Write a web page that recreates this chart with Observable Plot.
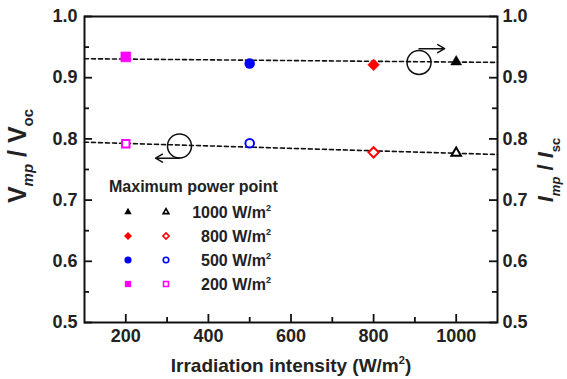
<!DOCTYPE html>
<html>
<head>
<meta charset="utf-8">
<script src="https://cdn.jsdelivr.net/npm/d3@7"></script>
<script src="https://cdn.jsdelivr.net/npm/@observablehq/plot@0.6"></script>
<style>
  html, body { margin: 0; padding: 0; background: #fff; }
  #wrap { position: relative; width: 567px; height: 379px; font-family: "Liberation Sans", Arial, sans-serif; }
  #legend { position: absolute; left: 109px; top: 176px; font-weight: bold; font-size: 16px; color: #222; }
  #legend .title { height: 22px; line-height: 22px; margin-bottom: 2px; }
  #legend .row { display: flex; align-items: center; height: 24px; }
  #legend .sym { width: 38px; display: flex; justify-content: center; }
  #legend .txt { width: 86px; text-align: right; white-space: nowrap; }
  sup { font-size: 9px; vertical-align: 7px; }
</style>
</head>
<body>
<div id="wrap"><div id="chart"></div><div id="legend"></div></div>
<script>
// ---- data ----
const irradiance = [200, 500, 800, 1000];
const seriesLabels = ["200 W/m", "500 W/m", "800 W/m", "1000 W/m"];
const vmpVoc = [0.934, 0.923, 0.921, 0.926];   // filled symbols (left axis)
const impIsc = [0.792, 0.793, 0.778, 0.777];   // open symbols (right axis, same scale)
const colors = ["#ff00ff", "#0000ff", "#ff0000", "#000000"];
const symbols = ["square", "circle", "diamond2", "triangle2"];
// dashed fit lines (endpoints read at frame edges)
const fitX = [100, 1100];
const fitV = [0.931, 0.925];
const fitI = [0.7946, 0.7745];
// ticks
const xDomain = [100, 1100];
const yDomain = [0.5, 1.0];
const xTicks = [200, 400, 600, 800, 1000];
const xMinor = [300, 500, 700, 900];
const yTicks = [0.5, 0.6, 0.7, 0.8, 0.9, 1.0];
const yMinor = [0.55, 0.65, 0.75, 0.85, 0.95];
// axis-indicator annotations
const circV = {x: 910, y: 0.925, ax1: 910, ay1: 0.9475, ax2: 972, ay2: 0.9475};
const circI = {x: 330, y: 0.7885, ax1: 330, ay1: 0.7685, ax2: 272, ay2: 0.7685};

const rows = irradiance.map((d, i) => ({x: d, v: vmpVoc[i], im: impIsc[i], color: colors[i], symbol: symbols[i]}));
const rFill = {square: 5.6, circle: 5, diamond2: 5.3, triangle2: 5.2};
const rOpen = {square: 4.2, circle: 4.3, diamond2: 4.6, triangle2: 4.6};

const font = "Liberation Sans, Arial, sans-serif";
const W = 567, H = 379, mL = 84, mR = 70, mT = 16, mB = 57;
const plotW = W - mL - mR, plotH = H - mT - mB;
// tick lengths in pixels, converted to data units of each scale
const major = 8, minor = 5;
const dxu = px => px * (xDomain[1] - xDomain[0]) / plotW;
const dyu = px => px * (yDomain[1] - yDomain[0]) / plotH;
const tickStyle = {stroke: "#111", strokeWidth: 1.8};

const marks = [
  Plot.line(fitX.map((x, i) => ({x, y: fitV[i]})), {x: "x", y: "y", stroke: "#111", strokeWidth: 1.6, strokeDasharray: "4,3"}),
  Plot.line(fitX.map((x, i) => ({x, y: fitI[i]})), {x: "x", y: "y", stroke: "#111", strokeWidth: 1.6, strokeDasharray: "4,3"}),
  ...rows.map(d => Plot.dot([d], {x: "x", y: "v", symbol: d.symbol, r: rFill[d.symbol], fill: d.color, stroke: d.color, strokeWidth: 0.5})),
  ...rows.map(d => Plot.dot([d], {x: "x", y: "im", symbol: d.symbol, r: rOpen[d.symbol], fill: "white", stroke: d.color, strokeWidth: 2})),
  Plot.dot([circV, circI], {x: "x", y: "y", r: 12, stroke: "#111", strokeWidth: 1.5, fill: "none"}),
  Plot.arrow([circV, circI], {x1: "ax1", y1: "ay1", x2: "ax2", y2: "ay2", stroke: "#111", strokeWidth: 1.5, headLength: 8}),
  // tick labels
  Plot.axisX({ticks: xTicks, tickSize: 0, tickPadding: 7, anchor: "bottom", fontSize: 18, fontWeight: "bold", color: "#222", tickFormat: d3.format("d"), label: null}),
  Plot.axisY({ticks: yTicks, tickSize: 0, tickPadding: 7, anchor: "left", fontSize: 18, fontWeight: "bold", color: "#222", tickFormat: d3.format(".1f"), label: null}),
  Plot.axisY({ticks: yTicks, tickSize: 0, tickPadding: 5, anchor: "right", fontSize: 18, fontWeight: "bold", color: "#222", tickFormat: d3.format(".1f"), label: null}),
  Plot.frame({stroke: "#111", strokeWidth: 2}),
  // inward ticks
  Plot.ruleX(xTicks, {x: d => d, y1: yDomain[0], y2: yDomain[0] + dyu(major), ...tickStyle}),
  Plot.ruleX(xMinor, {x: d => d, y1: yDomain[0], y2: yDomain[0] + dyu(minor), ...tickStyle}),
  Plot.ruleY(yTicks, {y: d => d, x1: xDomain[0], x2: xDomain[0] + dxu(major), ...tickStyle}),
  Plot.ruleY(yMinor, {y: d => d, x1: xDomain[0], x2: xDomain[0] + dxu(minor), ...tickStyle}),
  Plot.ruleY(yTicks, {y: d => d, x1: xDomain[1] - dxu(major), x2: xDomain[1], ...tickStyle}),
  Plot.ruleY(yMinor, {y: d => d, x1: xDomain[1] - dxu(minor), x2: xDomain[1], ...tickStyle})
];

const chart = Plot.plot({
  width: W,
  height: H,
  marginLeft: mL,
  marginRight: mR,
  marginTop: mT,
  marginBottom: mB,
  style: {fontFamily: font, background: "white", overflow: "visible"},
  x: {domain: xDomain},
  y: {domain: yDomain},
  marks
});
document.getElementById("chart").appendChild(chart);

// axis titles with sub/superscripts
const svg = d3.select(chart);
const xt = svg.append("text")
  .attr("x", 291).attr("y", 372)
  .attr("text-anchor", "middle")
  .attr("font-family", font).attr("font-weight", "bold").attr("font-size", 19).attr("fill", "#222");
xt.append("tspan").text("Irradiation intensity (W/m");
xt.append("tspan").attr("font-size", 11).attr("dy", -8).text("2");
xt.append("tspan").attr("dy", 8).text(")");

function ratioLabel(x, y, a, sa, b, sb, italic, size, subSize) {
  const t = svg.append("text")
    .attr("transform", `translate(${x},${y}) rotate(-90)`)
    .attr("text-anchor", "middle")
    .attr("font-family", font).attr("font-weight", "bold").attr("font-size", size).attr("fill", "#222");
  t.append("tspan").attr("font-style", italic ? "italic" : "normal").text(a);
  t.append("tspan").attr("font-size", subSize).attr("font-style", "italic").attr("dy", 7).text(sa);
  t.append("tspan").attr("dy", -7).text(" / ");
  t.append("tspan").attr("font-style", italic ? "italic" : "normal").text(b);
  t.append("tspan").attr("font-size", subSize).attr("dy", 7).text(sb);
}
ratioLabel(26, 156, "V", "mp", "V", "oc", false, 25, 15);
ratioLabel(553, 170, "I", "mp", "I", "sc", true, 22, 13);

// legend (HTML overlay)
const legend = d3.select("#legend");
legend.append("div").attr("class", "title").text("Maximum power point");
const order = [3, 2, 1, 0];
order.forEach(i => {
  const row = legend.append("div").attr("class", "row");
  const sym = d3.symbol().type({square: d3.symbolSquare, circle: d3.symbolCircle, diamond2: d3.symbolDiamond2, triangle2: d3.symbolTriangle2}[symbols[i]]);
  const s1 = row.append("div").attr("class", "sym").append("svg").attr("width", 12).attr("height", 12);
  s1.append("path").attr("transform", "translate(6,6)").attr("d", sym.size(40)()).attr("fill", colors[i]);
  const s2 = row.append("div").attr("class", "sym").append("svg").attr("width", 12).attr("height", 12);
  s2.append("path").attr("transform", "translate(6,6)").attr("d", sym.size(24)()).attr("fill", "white").attr("stroke", colors[i]).attr("stroke-width", 1.6);
  const txt = row.append("div").attr("class", "txt");
  txt.append("span").text(seriesLabels[i]);
  txt.append("sup").text("2");
});
</script>
</body>
</html>
